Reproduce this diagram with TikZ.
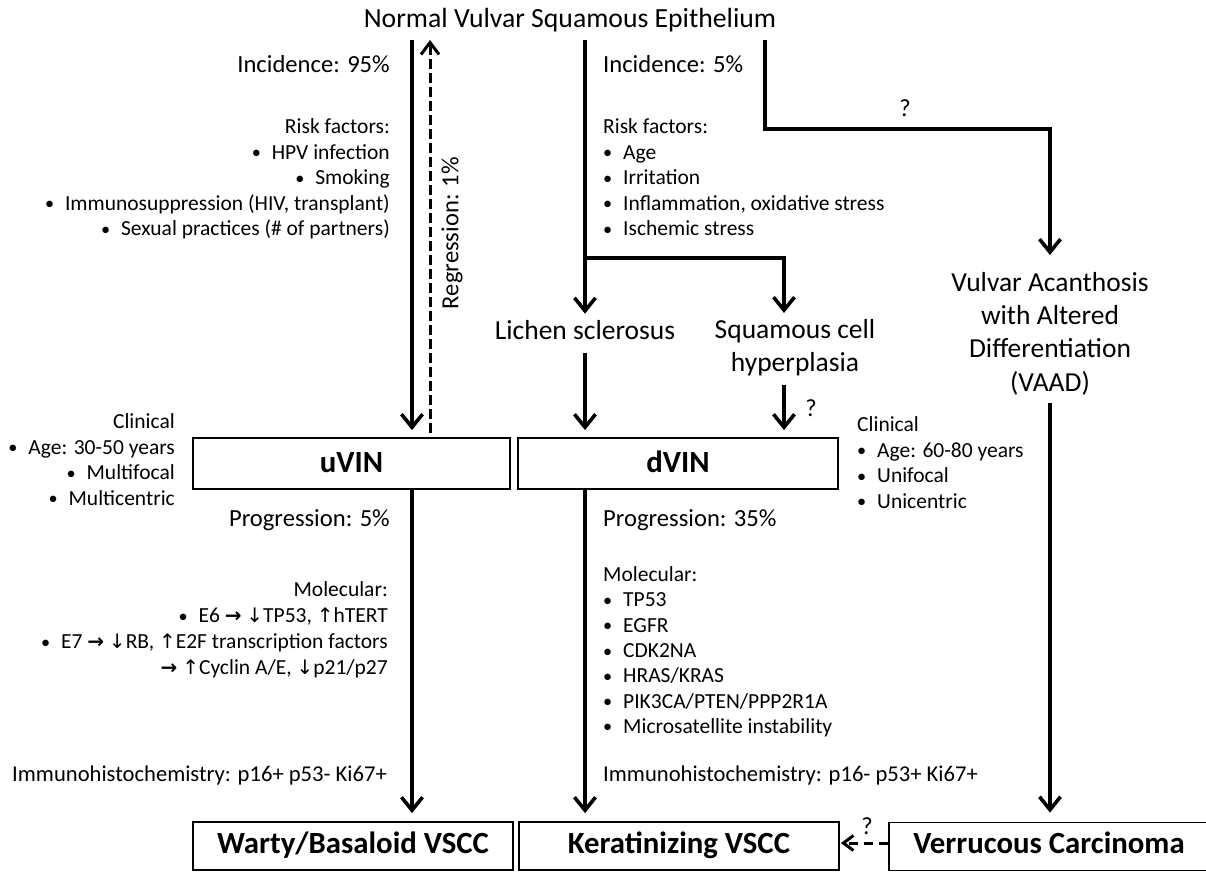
\documentclass[tikz,border=0pt]{standalone}
\usepackage{fontspec}
\setmainfont{Carlito}
\newfontfamily\symf{DejaVu Sans}
\usetikzlibrary{arrows.meta}
\newcommand\fA{\fontsize{21.5}{25.5}\selectfont}
\newcommand\fB{\fontsize{24.6}{29}\selectfont}
\newcommand\fC{\fontsize{27.5}{33.3}\selectfont}
\newcommand\bl{\makebox[20pt][l]{\raisebox{0.5pt}{\scalebox{0.85}{\textbullet}}}}
\newcommand\myra{{\symf\bfseries\fontsize{20}{20}\selectfont →}}
\newcommand\myup{{\symf\fontsize{20}{20}\selectfont ↑}}
\newcommand\mydn{{\symf\fontsize{20}{20}\selectfont ↓}}
\begin{document}
\begin{tikzpicture}[x=1pt,y=-1pt,line join=miter,
  arr/.style={line width=3.6pt,-{Straight Barb[length=13pt,width=21pt]}},
  darr/.style={line width=3pt,dash pattern=on 10pt off 4pt,-{Straight Barb[length=12pt,width=18pt]}},
  conn/.style={line width=3.6pt},
  box/.style={draw,line width=1.8pt,inner sep=0pt,minimum height=51pt,text height=20pt,text depth=2pt,font=\bfseries\fontsize{30.8}{36}\selectfont},
  lowbox/.style={box,minimum width=320pt,minimum height=48pt,text depth=6pt},
  txt/.style={inner sep=0pt,font=\fA},
  mid/.style={inner sep=0pt,font=\fB},
  big/.style={inner sep=0pt,font=\fC},
  ihc/.style={inner sep=0pt,font=\fontsize{22.6}{27}\selectfont}]
\useasboundingbox[fill=white] (0,0) rectangle (1206,872);

% title
\node[inner sep=0pt,font=\fontsize{27.7}{33}\selectfont,anchor=base] (title) at (570,28) {Normal Vulvar Squamous Epithelium};

% boxes
\node[box,minimum width=317pt] (uvin) at (351.5,463.5) {uVIN};
\node[box,minimum width=320pt] (dvin) at (678,463.5) {dVIN};
\node[lowbox] (warty) at (353,846) {Warty/Basaloid VSCC};
\node[lowbox] (kerat) at (679,846) {Keratinizing VSCC};
\node[lowbox] (verr) at (1049,846.5) {Verrucous Carcinoma};

% intermediate lesions
\node[big,anchor=base] (lichen) at (585,339) {Lichen sclerosus};
\node[big,anchor=north,align=center] (sqh) at (795,319) {Squamous cell\\hyperplasia};
\node[big,anchor=north,align=center] (vaad) at (1050,272) {Vulvar Acanthosis\\with Altered\\Differentiation\\(VAAD)};

% left column texts
\node[mid,anchor=base east] (inc95) at (390,73) {Incidence: 95\%};
\node[txt,anchor=north east,align=right] (riskL) at (390,118.5) {Risk factors:\\
\bl HPV infection\\
\bl Smoking\\
\bl Immunosuppression (HIV, transplant)\\
\bl Sexual practices (\# of partners)};
\node[mid,rotate=90] (regr) at (452,233) {Regression: 1\%};
\node[txt,anchor=north east,align=right] (clinL) at (175,413.5) {Clinical\\
\bl Age: 30-50 years\\
\bl Multifocal\\
\bl Multicentric};
\node[mid,anchor=base east] (prog5) at (390,526) {Progression: 5\%};
\node[txt,anchor=north east,align=right,font=\fontsize{21.5}{26}\selectfont] (molL) at (388,581.5) {Molecular:\\
\bl E6 \myra{} \mydn TP53, \myup hTERT\\
\bl E7 \myra{} \mydn RB, \myup E2F transcription factors\\
\myra{} \myup Cyclin A/E, \mydn p21/p27};
\node[ihc,anchor=base east] (ihcL) at (387,781) {Immunohistochemistry: p16+ p53- Ki67+};

% middle column texts
\node[mid,anchor=base west] (inc5) at (603,73) {Incidence: 5\%};
\node[txt,anchor=north west,align=left] (riskR) at (603,118.5) {Risk factors:\\
\bl Age\\
\bl Irritation\\
\bl Inflammation, oxidative stress\\
\bl Ischemic stress};
\node[txt,anchor=north west,align=left] (clinR) at (857,416.5) {Clinical\\
\bl Age: 60-80 years\\
\bl Unifocal\\
\bl Unicentric};
\node[mid,anchor=base west] (prog35) at (603,526) {Progression: 35\%};
\node[txt,anchor=north west,align=left,font=\fontsize{21.5}{25.3}\selectfont] (molR) at (603,566.5) {Molecular:\\
\bl TP53\\
\bl EGFR\\
\bl CDK2NA\\
\bl HRAS/KRAS\\
\bl PIK3CA/PTEN/PPP2R1A\\
\bl Microsatellite instability};
\node[ihc,anchor=base west] (ihcR) at (603,781) {Immunohistochemistry: p16- p53+ Ki67+};

% question marks
\node[mid] (q1) at (905,108) {?};
\node[mid] (q2) at (811,408) {?};
\node[mid] (q3) at (867,826) {?};

% coordinates
\coordinate (uTop) at (412,40);
\coordinate (rTop) at (430,40);
\coordinate (mTop) at (585,40);
\coordinate (mBr) at (585,258);
\coordinate (sBr) at (784,258);
\coordinate (vTop) at (765,40);
\coordinate (vC1) at (765,129);
\coordinate (vC2) at (1050,129);

% connectors
\draw[arr,shorten >=7pt] (uTop) -- (uvin.north -| uTop);
\draw[darr,shorten <=4pt] (uvin.north -| rTop) -- (rTop);
\draw[conn] (mTop) -- (mBr);
\draw[arr,shorten >=6pt] (mBr) -- (lichen.north);
\draw[arr,shorten >=6pt] (mBr) -- (sBr) -- (sqh.north -| sBr);
\draw[arr,shorten >=17pt] (vTop) -- (vC1) -- (vC2) -- (vaad.north -| vC2);
\draw[arr,shorten <=14pt,shorten >=7pt] (lichen.south) -- (dvin.north -| lichen.south);
\draw[arr,shorten <=9pt,shorten >=7pt] (sqh.south -| sBr) -- (dvin.north -| sBr);
\draw[arr,shorten <=8pt,shorten >=9pt] (vaad.south -| vC2) -- (verr.north -| vC2);
\draw[arr,shorten >=8pt] (uvin.south -| uTop) -- (warty.north -| uTop);
\draw[arr,shorten >=8pt] (dvin.south -| mTop) -- (kerat.north -| mTop);
\draw[darr,dash pattern=on 9pt off 6pt,-{Straight Barb[length=10pt,width=15pt]},shorten >=1pt] (verr.west |- 0,843) -- (kerat.east |- 0,843);
\end{tikzpicture}
\end{document}
